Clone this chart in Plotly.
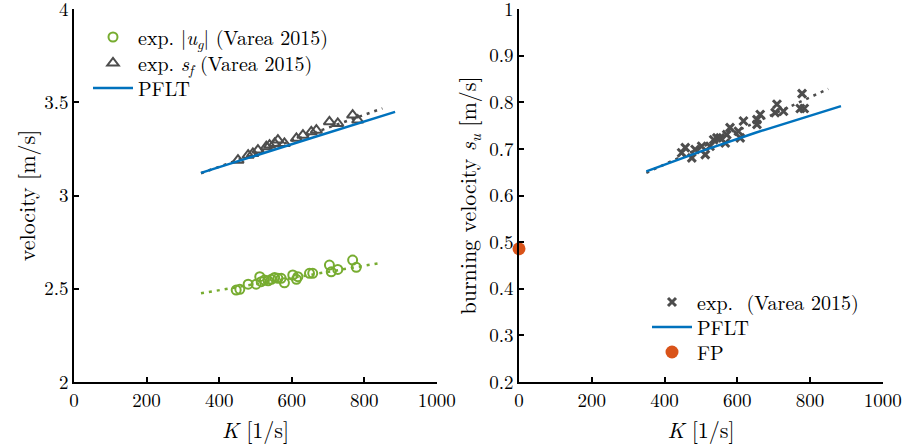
import plotly.graph_objects as go

# ---------------- data ----------------
# Left panel: measured |u_g|
ug_K = [447, 457, 480, 502, 512, 516, 525, 535, 544, 553, 562, 571, 580, 603, 613, 617, 649, 658, 704, 709, 727, 768, 778]
ug_v = [2.493, 2.497, 2.525, 2.525, 2.565, 2.538, 2.547, 2.543, 2.551, 2.561, 2.556, 2.556, 2.532, 2.574, 2.551, 2.565, 2.583, 2.583, 2.627, 2.591, 2.604, 2.654, 2.615]
# Left panel: measured s_f
sf_K = [452, 480, 493, 507, 530, 539, 553, 562, 580, 613, 631, 654, 668, 704, 727, 768, 782]
sf_v = [3.190, 3.217, 3.226, 3.244, 3.262, 3.271, 3.280, 3.298, 3.280, 3.307, 3.324, 3.342, 3.351, 3.396, 3.387, 3.432, 3.405]
# Linear fits (dotted)
fit_K = [350, 850]
ug_fit = [2.476, 2.640]
sf_fit = [3.120, 3.468]
# PFLT model
pflt_K = [350, 500, 650, 885]
pflt_v = [3.122, 3.215, 3.306, 3.449]
pflt_su = [0.652, 0.695, 0.735, 0.792]
# Right panel: measured s_u
su_K = [447, 457, 475, 484, 502, 512, 525, 535, 544, 553, 567, 571, 580, 603, 608, 617, 654, 654, 663, 704, 709, 727, 778, 773, 784]
su_v = [0.692, 0.703, 0.681, 0.699, 0.706, 0.688, 0.706, 0.720, 0.724, 0.724, 0.713, 0.731, 0.746, 0.738, 0.724, 0.760, 0.763, 0.753, 0.774, 0.778, 0.796, 0.781, 0.819, 0.787, 0.787]
su_fit = [0.649, 0.829]
# FP point
fp_K = [0]
fp_su = [0.486]
# tick values
x_ticks = [0, 200, 400, 600, 800, 1000]
yl_ticks = [2, 2.5, 3, 3.5, 4]
yr_ticks = [0.2, 0.3, 0.4, 0.5, 0.6, 0.7, 0.8, 0.9, 1]

GREEN = "#77ac30"
GRAY = "#4d4d4d"
BLUE = "#0072bd"
ORANGE = "#d95319"
FONT = "Latin Modern Roman, CMU Serif, Liberation Serif, serif"

fig = go.Figure()

# left panel
fig.add_trace(go.Scatter(x=fit_K, y=ug_fit, mode="lines", line=dict(color=GREEN, width=2.5, dash="3px,5px"),
                         showlegend=False, xaxis="x", yaxis="y"))
fig.add_trace(go.Scatter(x=fit_K, y=sf_fit, mode="lines", line=dict(color=GRAY, width=2.5, dash="3px,5px"),
                         showlegend=False, xaxis="x", yaxis="y"))
fig.add_trace(go.Scatter(x=ug_K, y=ug_v, mode="markers",
                         marker=dict(symbol="circle-open", size=9, color=GREEN, line=dict(width=2, color=GREEN)),
                         name="exp. |<i>u</i><sub><i>g</i></sub>| (Varea 2015)", legend="legend", xaxis="x", yaxis="y"))
fig.add_trace(go.Scatter(x=sf_K, y=sf_v, mode="markers",
                         marker=dict(symbol="triangle-up-open", size=10, color=GRAY, line=dict(width=2, color=GRAY)),
                         name="exp. <i>s</i><sub><i>f</i></sub> (Varea 2015)", legend="legend3", xaxis="x", yaxis="y"))
fig.add_trace(go.Scatter(x=pflt_K, y=pflt_v, mode="lines", line=dict(color=BLUE, width=2.5),
                         name="PFLT", legend="legend4", xaxis="x", yaxis="y"))

# right panel
fig.add_trace(go.Scatter(x=fit_K, y=su_fit, mode="lines", line=dict(color=GRAY, width=2.5, dash="3px,5px"),
                         showlegend=False, xaxis="x2", yaxis="y2"))
fig.add_trace(go.Scatter(x=su_K, y=su_v, mode="markers",
                         marker=dict(symbol="x-thin", size=8, color=GRAY, line=dict(width=3, color=GRAY)),
                         name="exp.  (Varea 2015)", legend="legend2", xaxis="x2", yaxis="y2"))
fig.add_trace(go.Scatter(x=pflt_K, y=pflt_su, mode="lines", line=dict(color=BLUE, width=2.5),
                         name="PFLT", legend="legend5", xaxis="x2", yaxis="y2"))
fig.add_trace(go.Scatter(x=fp_K, y=fp_su, mode="markers", marker=dict(size=13, color=ORANGE),
                         name="FP", legend="legend6", xaxis="x2", yaxis="y2", cliponaxis=False))

axis_common = dict(showgrid=False, zeroline=False, showline=True, linecolor="black", linewidth=1.5,
                   ticks="inside", ticklen=5, tickwidth=1.5, tickcolor="black", mirror=False,
                   tickmode="array", ticklabeloverflow="allow", automargin=False,
                   tickfont=dict(family=FONT, size=19, color="black"))

W0, W1 = 74, 883
T0, B0 = 9, 382
def px(p):
    return (p - W0) / (W1 - W0)
def py(p):
    return 1 - (p - T0) / (B0 - T0)

def leg(xp, yp):
    return dict(x=px(xp), y=py(yp), xanchor="left", yanchor="middle", bgcolor="rgba(0,0,0,0)",
                font=dict(family=FONT, size=20), tracegroupgap=0, itemwidth=40)

fig.update_layout(
    width=907, height=448,
    margin=dict(l=W0, r=907 - W1, t=T0, b=448 - B0, autoexpand=False),
    paper_bgcolor="white", plot_bgcolor="white",
    font=dict(family=FONT, size=19, color="black"),
    xaxis=dict(domain=[0, px(437)], range=[0, 1000.5], tickvals=x_ticks, anchor="y",
               title=dict(text="<i>K</i> [1/s]", font=dict(size=22), standoff=0), **axis_common),
    yaxis=dict(domain=[0, 1], range=[2, 4.001], tickvals=yl_ticks, anchor="x",
               title=dict(text="velocity [m/s]", font=dict(size=22), standoff=2), **axis_common),
    xaxis2=dict(domain=[px(519), 1], range=[0, 1000.5], tickvals=x_ticks, anchor="y2",
                title=dict(text="<i>K</i> [1/s]", font=dict(size=22), standoff=0), **axis_common),
    yaxis2=dict(domain=[0, 1], range=[0.2, 1.0005], tickvals=yr_ticks, anchor="x2",
                title=dict(text="burning velocity <i>s</i><sub><i>u</i></sub> [m/s]", font=dict(size=22), standoff=6),
                **axis_common),
    legend=leg(88, 37),
    legend3=leg(88, 63),
    legend4=leg(88, 88),
    legend2=leg(647, 302),
    legend5=leg(647, 327),
    legend6=leg(647, 352),
)

fig.write_html("out.html")
